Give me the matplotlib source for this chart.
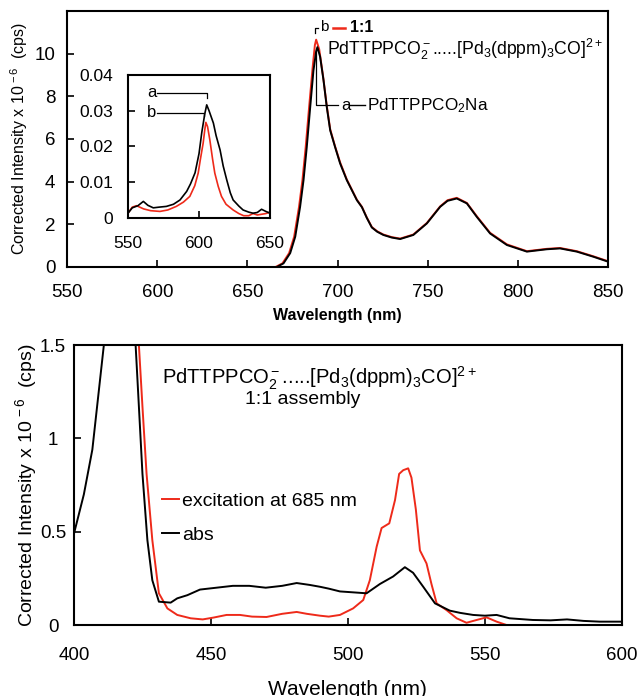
import numpy as np
import matplotlib
matplotlib.use("Agg")
import matplotlib.pyplot as plt

plt.rcParams['font.family'] = ['Liberation Sans', 'DejaVu Sans']
plt.rcParams['mathtext.fontset'] = 'custom'
plt.rcParams['mathtext.rm'] = 'Liberation Sans'
plt.rcParams['mathtext.it'] = 'Liberation Sans:italic'
plt.rcParams['mathtext.bf'] = 'Liberation Sans:bold'

RED = '#ee2a1a'

# top panel: emission spectra (a = PdTTPPCO2Na, b = 1:1 assembly)
em_a_nm = [550, 660, 666.3, 670, 673.7, 676.5, 679.2, 681.1, 682.9, 684.8, 686.6, 688.1, 688.8, 690.3,
           692.2, 694, 695.9, 698.6, 701.4, 705.1, 710.7, 713.5, 716.2, 719, 722, 725.4, 730, 734.7,
           742, 749.5, 756.9, 761, 766.1, 771.7, 777.2, 784.6, 793.9, 805, 816, 823.4, 832.7, 841.9, 850]
em_a = [0, 0, 0, 0.17, 0.65, 1.42, 2.82, 4.07, 5.62, 7.49, 9.2, 10.1, 10.3, 9.85,
        8.74, 7.49, 6.4, 5.62, 4.85, 4.07, 3.13, 2.8, 2.3, 1.85, 1.65, 1.5, 1.38, 1.31,
        1.5, 2.04, 2.82, 3.1, 3.21, 2.98, 2.35, 1.57, 1.03, 0.72, 0.83, 0.87, 0.72, 0.48, 0.25]
em_b_nm = [550, 660, 665.6, 669.4, 673.1, 675.9, 678.6, 680.5, 682.3, 684.2, 686.1, 687.4, 688.1, 689.8,
           692, 694, 695.9, 698.6, 701.4, 705.1, 710.7, 713.5, 716.2, 719, 722, 725.4, 730, 734.7,
           742, 749.5, 756.9, 761, 766.1, 771.7, 777.2, 784.6, 793.9, 805, 816, 823.4, 832.7, 841.9, 850]
em_b = [0, 0, 0, 0.17, 0.65, 1.42, 2.82, 4.07, 5.62, 7.49, 9.3, 10.4, 10.65, 10.2,
        8.9, 7.55, 6.45, 5.65, 4.9, 4.1, 3.15, 2.82, 2.32, 1.87, 1.67, 1.52, 1.4, 1.33,
        1.52, 2.06, 2.84, 3.13, 3.24, 3.0, 2.38, 1.6, 1.06, 0.74, 0.85, 0.89, 0.74, 0.5, 0.27]

# inset: weak band near 605 nm
in_a_nm = [550, 553, 557, 560.8, 564, 567.8, 572, 577, 582, 586.6, 591.3, 594, 597.2, 600, 601.9,
           604, 605.4, 607, 610.1, 612, 614.8, 617, 619.5, 622, 624, 628, 631, 635, 638, 641, 644, 647, 650]
in_a = [0.0013, 0.0028, 0.0034, 0.0046, 0.0035, 0.0028, 0.003, 0.0032, 0.0038, 0.005, 0.0074, 0.0095,
        0.0126, 0.018, 0.0238, 0.029, 0.0316, 0.03, 0.0265, 0.023, 0.019, 0.0145, 0.0106, 0.007, 0.005,
        0.0033, 0.0022, 0.0016, 0.0013, 0.0015, 0.0024, 0.0018, 0.0013]
in_b_nm = [550, 553, 556, 561, 566, 572.5, 578, 584, 589, 593.5, 597, 599.4, 601, 602.9, 604, 604.8,
           606, 607.6, 609.5, 611.1, 613.5, 615.8, 619, 624, 628, 631.4, 635, 638, 641, 644, 647, 650]
in_b = [0.0013, 0.003, 0.0034, 0.0025, 0.002, 0.0018, 0.0022, 0.0032, 0.0044, 0.006, 0.009, 0.0125,
        0.0165, 0.0209, 0.0245, 0.0267, 0.0255, 0.0218, 0.0165, 0.0125, 0.0088, 0.006, 0.0038, 0.0022,
        0.0012, 0.0006, 0.0006, 0.0012, 0.0008, 0.001, 0.0012, 0.0016]

# bottom panel: excitation (685 nm) and absorption
abs_nm = [400, 403.6, 406.7, 409.1, 410.9, 412.5, 421, 422.5, 423.7, 425, 426.8, 428.6, 431, 435.3,
          437.7, 441.4, 446, 452, 458, 464, 470, 476, 481.3, 486, 489.8, 493, 497.1, 502, 506.8,
          511.7, 516.5, 520.8, 523.8, 527.5, 531.8, 537.2, 541, 545.7, 550, 554.3, 559, 567.5, 574,
          580, 586, 592, 600]
abs_v = [0.49, 0.7, 0.94, 1.26, 1.5, 1.7, 1.7, 1.5, 1.17, 0.81, 0.455, 0.24, 0.125, 0.12,
         0.143, 0.16, 0.19, 0.2, 0.21, 0.21, 0.2, 0.21, 0.225, 0.215, 0.205, 0.195, 0.18, 0.175, 0.17,
         0.22, 0.26, 0.31, 0.28, 0.205, 0.116, 0.077, 0.065, 0.054, 0.05, 0.054, 0.036, 0.027, 0.025,
         0.03, 0.022, 0.018, 0.018]
exc_nm = [400, 401, 422, 423.7, 425, 426.5, 428.6, 431, 434.1, 437.7, 442.6, 447, 451, 455.7, 460.6,
          465, 470.3, 476, 481.3, 485, 489.8, 493, 497.1, 501.9, 505.6, 508, 510.5, 512.3, 515.1,
          517.2, 518.7, 520.2, 522, 523.2, 524.8, 526.3, 528.7, 530.5, 532.4, 536, 539.7, 543.3,
          547, 550.6, 554.3, 557.9, 570, 585, 600]
exc_v = [1.45, 2.5, 2.5, 1.5, 1.17, 0.81, 0.455, 0.17, 0.089, 0.054, 0.036, 0.03, 0.04, 0.054, 0.054,
         0.045, 0.043, 0.06, 0.07, 0.06, 0.05, 0.045, 0.054, 0.089, 0.134, 0.24, 0.42, 0.52, 0.545,
         0.67, 0.81, 0.83, 0.84, 0.79, 0.62, 0.4, 0.33, 0.22, 0.116, 0.08, 0.036, 0.012,
         0.027, 0.041, 0.018, 0, 0, 0, 0]

top_xticks = [550, 600, 650, 700, 750, 800, 850]
top_yticks = [0, 2, 4, 6, 8, 10]
ins_xticks = [550, 600, 650]
ins_yticks = [0, 0.01, 0.02, 0.03, 0.04]
ins_ylabels = ['0', '0.01', '0.02', '0.03', '0.04']
bot_xticks = [400, 450, 500, 550, 600]
bot_yticks = [0, 0.5, 1, 1.5]
bot_ylabels = ['0', '0.5', '1', '1.5']

ylab = 'Corrected Intensity x 10$^{\\,-6}$  (cps)'
assembly = 'PdTTPPCO$_2^-$.....[Pd$_3$(dppm)$_3$CO]$^{2+}$'


def style(ax, fs, xpad, ypad):
    ax.tick_params(direction='in', length=5, width=1.2, labelsize=fs, top=False, right=False)
    ax.tick_params(axis='x', pad=xpad)
    ax.tick_params(axis='y', pad=ypad)
    for s in ax.spines.values():
        s.set_linewidth(1.5)


fig = plt.figure(figsize=(6.4, 6.96), dpi=100)

ax1 = fig.add_axes([0.105, 0.6164, 0.845, 0.368])
ax1.plot(em_b_nm, em_b, color=RED, lw=1.4)
ax1.plot(em_a_nm, em_a, color='black', lw=1.4)
ax1.set_xlim(550, 850)
ax1.set_ylim(0, 12)
ax1.set_xticks(top_xticks)
ax1.set_yticks(top_yticks)
style(ax1, 13.5, 12.5, 8.5)
ax1.set_xlabel('Wavelength (nm)', fontsize=11.5, fontweight='bold', labelpad=5)
ax1.set_ylabel(ylab, fontsize=11.5, labelpad=3)

# labels of the two main peaks
ax1.plot([688.1, 688.1, 700.3], [10.1, 7.57, 7.57], color='black', lw=0.9)
ax1.text(704.7, 7.57, 'a', fontsize=12, va='center', ha='center')
ax1.plot([707.0, 715.3], [7.57, 7.57], color='black', lw=1.0)
ax1.text(716.4, 7.57, 'PdTTPPCO$_2$Na', fontsize=12.3, va='center')
ax1.plot([687.5, 687.5, 689.2], [10.95, 11.22, 11.22], color='black', lw=0.9)
ax1.text(692.5, 11.25, 'b', fontsize=11, va='center', ha='center')
ax1.plot([697.5, 704.2], [11.2, 11.2], color=RED, lw=1.8)
ax1.text(707.0, 11.22, '1:1', fontsize=11.5, fontweight='bold', va='center')
ax1.text(694.2, 10.18, assembly, fontsize=12.7, va='center')

ax_in = fig.add_axes([0.2, 0.687, 0.222, 0.2055])
ax_in.plot(in_b_nm, in_b, color=RED, lw=1.2)
ax_in.plot(in_a_nm, in_a, color='black', lw=1.2)
ax_in.set_xlim(550, 650)
ax_in.set_ylim(0, 0.04)
ax_in.set_xticks(ins_xticks)
ax_in.set_yticks(ins_yticks)
ax_in.set_yticklabels(ins_ylabels)
style(ax_in, 12.5, 13, 10.5)
ax_in.plot([570.4, 605.6, 605.6], [0.035, 0.035, 0.0335], color='black', lw=0.9)
ax_in.text(566.5, 0.035, 'a', fontsize=12, va='center', ha='center')
ax_in.plot([570.4, 603.8, 603.8], [0.0294, 0.0294, 0.0285], color='black', lw=0.9)
ax_in.text(566.5, 0.0294, 'b', fontsize=12, va='center', ha='center')

ax2 = fig.add_axes([0.1156, 0.102, 0.856, 0.402])
ax2.plot(exc_nm, exc_v, color=RED, lw=1.4, label='excitation at 685 nm')
ax2.plot(abs_nm, abs_v, color='black', lw=1.4, label='abs')
ax2.set_xlim(400, 600)
ax2.set_ylim(0, 1.5)
ax2.set_xticks(bot_xticks)
ax2.set_yticks(bot_yticks)
ax2.set_yticklabels(bot_ylabels)
style(ax2, 13.5, 16, 15)
for t in ax2.get_yticklabels():
    t.set_horizontalalignment('center')
ax2.set_xlabel('Wavelength (nm)', fontsize=15, labelpad=11)
ax2.set_ylabel(ylab, fontsize=14, labelpad=1)
ax2.text(432.1, 1.323, assembly, fontsize=14.5, va='center')
ax2.text(462.4, 1.21, '1:1 assembly', fontsize=14, va='center')
ax2.legend(loc='upper left', bbox_to_anchor=(0.16, 0.475), frameon=False, fontsize=14,
           handlelength=0.9, handletextpad=0.15, labelspacing=0.85, borderaxespad=0,
           borderpad=0)

fig.savefig('out.png', dpi=100)
